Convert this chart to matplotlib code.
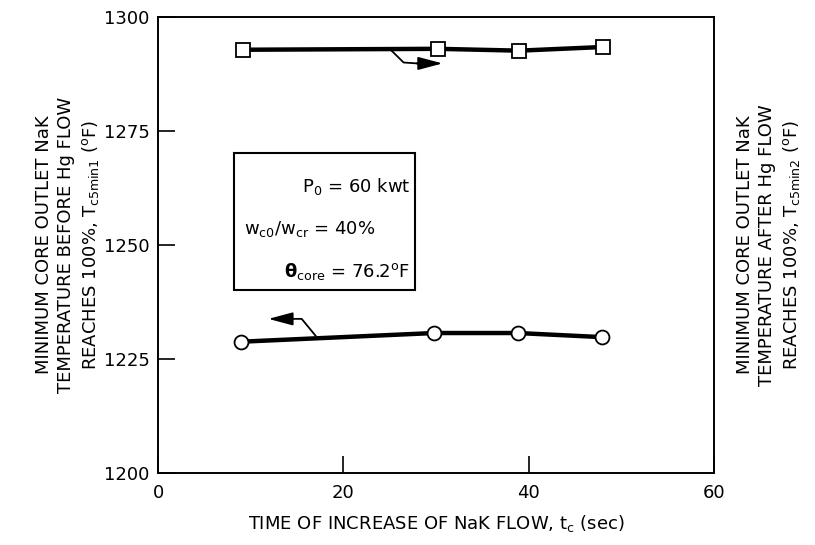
import matplotlib.pyplot as plt

# Data
t_before = [9.0, 29.8, 38.8, 47.9]
T_before = [1228.8, 1230.7, 1230.7, 1229.8]
t_after = [9.2, 30.2, 39.0, 48.0]
T_after = [1292.8, 1293.0, 1292.6, 1293.4]
x_ticks = [0, 20, 40, 60]
y_ticks = [1200, 1225, 1250, 1275, 1300]

plt.rcParams['font.family'] = ['DejaVu Sans']
plt.rcParams['mathtext.fontset'] = 'dejavusans'

fig = plt.figure(figsize=(8.15, 5.45), dpi=100)
ax = fig.add_axes([0.194, 0.132, 0.682, 0.837])
ax2 = ax.twinx()

ax.plot(t_before, T_before, color='black', lw=3.2, marker='o', ms=10,
        mfc='white', mec='black', mew=1.3, zorder=3)
ax2.plot(t_after, T_after, color='black', lw=3.2, marker='s', ms=10,
         mfc='white', mec='black', mew=1.3, zorder=3)

for a in (ax, ax2):
    a.set_xlim(0, 60)
    a.set_ylim(1200, 1300)
ax.set_xticks(x_ticks)
ax.set_yticks(y_ticks)
ax.tick_params(direction='in', length=12, width=1.2, labelsize=13, pad=6)
ax.tick_params(axis='x', pad=8)
ax2.set_yticks([])
for a in (ax, ax2):
    for s in a.spines.values():
        s.set_linewidth(1.2)

# arrows identifying the axis of each curve
ax2.plot([25.0, 26.5, 28.0], [1293.0, 1290.0, 1289.8], color='black', lw=1.3)
ax2.annotate('', xy=(31.0, 1289.8), xytext=(27.6, 1289.8),
             arrowprops=dict(arrowstyle='-|>,head_length=1.5,head_width=0.4',
                             color='black', lw=1.3))
ax.plot([17.0, 15.5, 14.0], [1230.1, 1233.8, 1233.8], color='black', lw=1.3)
ax.annotate('', xy=(11.6, 1233.8), xytext=(14.4, 1233.8),
            arrowprops=dict(arrowstyle='-|>,head_length=1.5,head_width=0.4',
                            color='black', lw=1.3))

# parameter box
box = plt.Rectangle((8.2, 1240.1), 19.5, 30.1, fill=False, lw=1.5,
                    edgecolor='black', zorder=4)
ax.add_patch(box)
ax.text(27.2, 1262.8, r'P$_{\mathrm{0}}$ = 60 kwt', ha='right', va='center', fontsize=13)
ax.text(9.3, 1253.4, r'w$_{\mathrm{c0}}$/w$_{\mathrm{cr}}$ = 40%', ha='left', va='center', fontsize=13)
ax.text(27.2, 1244.2, r'$\mathbf{\theta}_{\mathrm{core}}$ = 76.2$^{\mathrm{o}}$F', ha='right',
        va='center', fontsize=13)

ax.set_xlabel(r'TIME OF INCREASE OF NaK FLOW, t$_{\mathrm{c}}$ (sec)', fontsize=13, labelpad=8)
ax.set_ylabel('MINIMUM CORE OUTLET NaK\nTEMPERATURE BEFORE Hg FLOW\n'
              r'REACHES 100%, T$_{\mathrm{c5min1}}$ ($^{\mathrm{o}}$F)',
              fontsize=13, labelpad=2, linespacing=1.3)
ax2.set_ylabel('MINIMUM CORE OUTLET NaK\nTEMPERATURE AFTER Hg FLOW\n'
               r'REACHES 100%, T$_{\mathrm{c5min2}}$ ($^{\mathrm{o}}$F)',
               fontsize=13, labelpad=16, linespacing=1.3, rotation=90)

fig.savefig('out.png', dpi=100)
